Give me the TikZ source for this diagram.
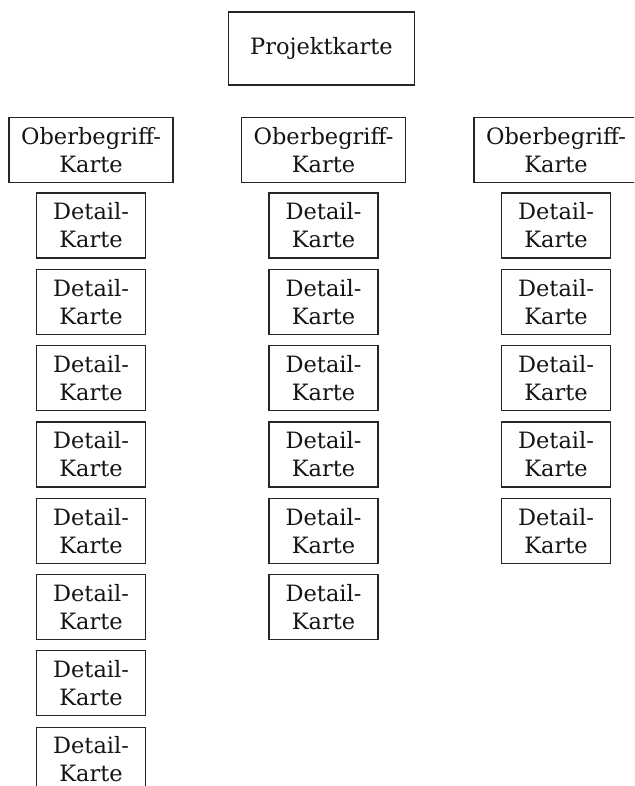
\documentclass[tikz,border=0pt]{standalone}
\usepackage{fontspec}
\setmainfont{DejaVu Serif}
\begin{document}
\begin{tikzpicture}[x=1pt,y=-1pt,
  card/.style={draw=black!85, line width=1.2pt, inner sep=0pt, align=center,
    font=\fontsize{22.5}{28}\selectfont, text=black!92},
  topcard/.style={card, minimum width=186pt, minimum height=73pt},
  groupcard/.style={card, minimum width=164pt, minimum height=65pt},
  detailcard/.style={card, minimum width=109pt, minimum height=65pt}]
\useasboundingbox (0,0) rectangle (634,786);
\clip (0,0) rectangle (634,786);
% project card on top
\node[topcard] (proj) at (321.5,48.5) {Projektkarte};
% three columns: group card with its detail cards below
\foreach \col/\x/\n in {a/91/8, b/323.5/6, c/556/5} {
  \node[groupcard] (ober-\col) at (\x,150) {Oberbegriff-\\Karte};
  \foreach \i in {1,...,\n}
    \node[detailcard] (detail-\col-\i) at (\x,{225.5+(\i-1)*76.3}) {Detail-\\Karte};
}
\end{tikzpicture}
\end{document}
